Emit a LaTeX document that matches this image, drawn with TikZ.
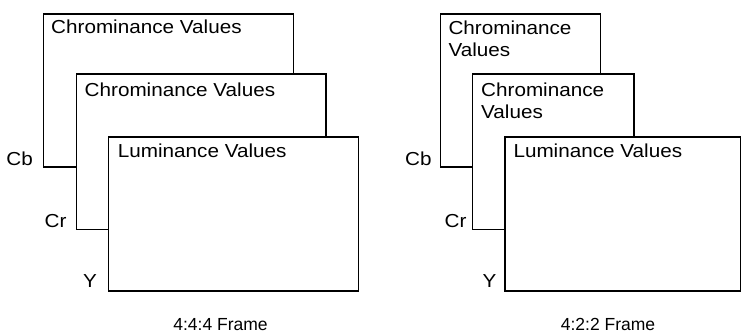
\documentclass[tikz,border=0pt]{standalone}
\usepackage{fontspec}
\setmainfont{Liberation Sans}[FakeStretch=1.1]
\newfontfamily\capfont{Liberation Sans}
\begin{document}
\begin{tikzpicture}[x=1pt,y=-1pt,
  plane/.style={draw=black,line width=1.6pt,fill=white,inner sep=0pt,anchor=north west},
  lbl/.style={inner sep=0pt,anchor=base west,align=left},
  side/.style={inner sep=0pt,anchor=base east},
  captxt/.style={inner sep=0pt,anchor=base,font=\capfont\fontsize{17.5}{20}\selectfont}]
\useasboundingbox (0,0) rectangle (741,334);
\fontsize{18.8}{21.7}\selectfont
% left: 4:4:4
\node[plane,minimum width=250pt,minimum height=153pt] (cbA) at (42.7,13) {};
\node[plane,minimum width=249.5pt,minimum height=155pt] (crA) at (75.5,73.5) {};
\node[plane,minimum width=250pt,minimum height=154pt] (yA) at (107.7,136) {};
\node[lbl] (tcbA) at (51,34) {Chrominance Values};
\node[lbl] (tcrA) at (84.5,96.7) {Chrominance Values};
\node[lbl] (tyA) at (117.7,157.8) {Luminance Values};
\node[side] (lcbA) at (33,165.5) {Cb};
\node[side] (lcrA) at (66.7,227.5) {Cr};
\node[side] (lyA) at (97,287) {Y};
\node[captxt] (capA) at (220.5,330) {4:4:4 Frame};
% right: 4:2:2
\node[plane,minimum width=160pt,minimum height=153pt] (cbB) at (439.5,13) {};
\node[plane,minimum width=161.6pt,minimum height=155pt] (crB) at (471.7,73.5) {};
\node[plane,minimum width=235.7pt,minimum height=154pt] (yB) at (504.3,136) {};
\node[lbl] (tcbB) at (448.3,56.7) {Chrominance\\Values};
\node[lbl] (tcrB) at (481,118.3) {Chrominance\\Values};
\node[lbl] (tyB) at (513.3,157.8) {Luminance Values};
\node[side] (lcbB) at (431.7,165.5) {Cb};
\node[side] (lcrB) at (466.7,227.5) {Cr};
\node[side] (lyB) at (496.7,287) {Y};
\node[captxt] (capB) at (608,330) {4:2:2 Frame};
\end{tikzpicture}
\end{document}
